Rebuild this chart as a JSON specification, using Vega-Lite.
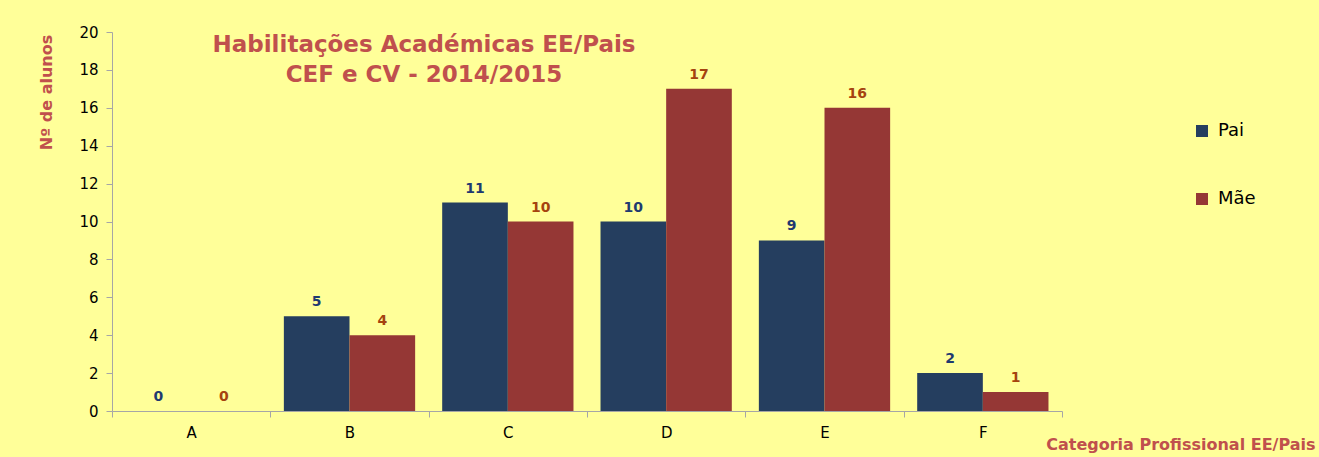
{
  "$schema": "https://vega.github.io/schema/vega-lite/v6.json",
  "width": 950,
  "height": 379,
  "autosize": {"type": "none"},
  "padding": {"left": 112, "top": 32, "right": 257, "bottom": 46},
  "background": "#FFFF99",
  "config": {"view": {"stroke": null}, "font": "DejaVu Sans"},
  "title": {
    "text": ["Habilitações Académicas EE/Pais", "CEF e CV - 2014/2015"],
    "color": "#C0504D",
    "fontSize": 23,
    "fontWeight": "bold",
    "lineHeight": 30,
    "anchor": "middle",
    "dx": -163,
    "dy": 66
  },
  "data": {
    "values": [
      {"cat": "A", "serie": "Pai", "n": 0},
      {"cat": "A", "serie": "Mãe", "n": 0},
      {"cat": "B", "serie": "Pai", "n": 5},
      {"cat": "B", "serie": "Mãe", "n": 4},
      {"cat": "C", "serie": "Pai", "n": 11},
      {"cat": "C", "serie": "Mãe", "n": 10},
      {"cat": "D", "serie": "Pai", "n": 10},
      {"cat": "D", "serie": "Mãe", "n": 17},
      {"cat": "E", "serie": "Pai", "n": 9},
      {"cat": "E", "serie": "Mãe", "n": 16},
      {"cat": "F", "serie": "Pai", "n": 2},
      {"cat": "F", "serie": "Mãe", "n": 1}
    ]
  },
  "encoding": {
    "x": {
      "field": "cat",
      "type": "nominal",
      "scale": {"paddingInner": 0, "paddingOuter": 0},
      "axis": {
        "title": "Categoria Profissional EE/Pais",
        "titleColor": "#C0504D",
        "titleFontSize": 16,
        "titleFontWeight": "bold",
        "titleX": 1203,
        "titleY": 38,
        "titleAlign": "right",
        "titleBaseline": "alphabetic",
        "labelAngle": 0,
        "tickBand": "extent",
        "tickSize": 6,
        "labelPadding": 8,
        "labelFontSize": 15,
        "labelColor": "black",
        "domainColor": "#A6A6A6",
        "tickColor": "#A6A6A6"
      }
    },
    "xOffset": {
      "field": "serie",
      "type": "nominal",
      "sort": ["Pai", "Mãe"],
      "scale": {"paddingInner": 0, "paddingOuter": 0.206}
    },
    "y": {
      "field": "n",
      "type": "quantitative",
      "scale": {"domain": [0, 20], "nice": false},
      "axis": {
        "title": "Nº de alunos",
        "titleColor": "#C0504D",
        "titleFontSize": 16,
        "titleFontWeight": "bold",
        "titleAngle": -90,
        "titleX": -66,
        "titleY": 60,
        "titleAlign": "center",
        "titleBaseline": "middle",
        "values": [0, 2, 4, 6, 8, 10, 12, 14, 16, 18, 20],
        "grid": false,
        "tickSize": 6,
        "labelPadding": 8,
        "labelFontSize": 15,
        "labelColor": "black",
        "domainColor": "#A6A6A6",
        "tickColor": "#A6A6A6"
      }
    }
  },
  "layer": [
    {
      "mark": {"type": "bar"},
      "encoding": {
        "color": {
          "field": "serie",
          "type": "nominal",
          "sort": ["Pai", "Mãe"],
          "scale": {"domain": ["Pai", "Mãe"], "range": ["#253E5F", "#953735"]},
          "legend": {
            "orient": "none",
            "legendX": 1081,
            "legendY": 90,
            "title": null,
            "symbolType": "square",
            "symbolSize": 144,
            "symbolStrokeWidth": 0,
            "labelFontSize": 18,
            "labelColor": "black",
            "labelOffset": 7,
            "rowPadding": 50
          }
        }
      }
    },
    {
      "mark": {"type": "text", "fontWeight": "bold", "fontSize": 14, "baseline": "alphabetic", "dy": -10},
      "encoding": {
        "text": {"field": "n", "type": "quantitative"},
        "color": {
          "condition": {"test": "datum.serie === 'Pai'", "value": "#1F3A70"},
          "value": "#A5430F"
        }
      }
    }
  ]
}
